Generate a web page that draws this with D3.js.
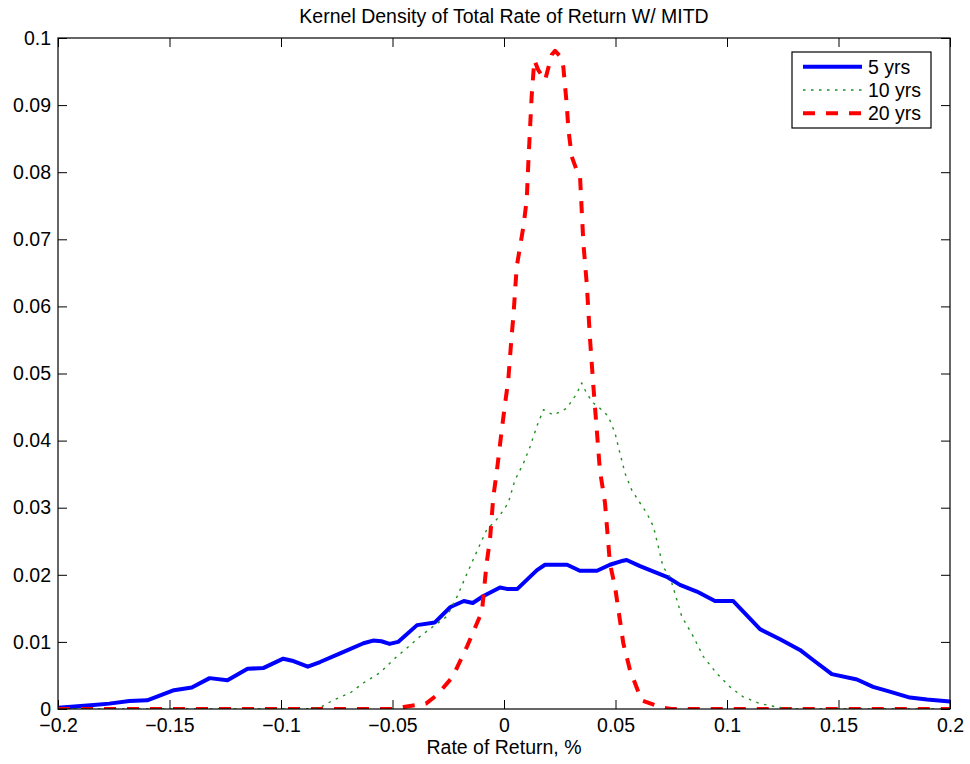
<!DOCTYPE html>
<html>
<head>
<meta charset="utf-8">
<script src="https://cdn.jsdelivr.net/npm/d3@7"></script>
<style>
  html, body { margin: 0; padding: 0; background: #fff; }
  svg { display: block; font-family: "Liberation Sans", Arial, Helvetica, sans-serif; }
</style>
</head>
<body>
<svg id="chart" width="970" height="764"></svg>
<script>
// Kernel density estimates, sampled as (return, density) pairs
const xTicks = [-0.2, -0.15, -0.1, -0.05, 0, 0.05, 0.1, 0.15, 0.2];
const xTickLabels = ["\u22120.2", "\u22120.15", "\u22120.1", "\u22120.05", "0", "0.05", "0.1", "0.15", "0.2"];
const yTicks = [0, 0.01, 0.02, 0.03, 0.04, 0.05, 0.06, 0.07, 0.08, 0.09, 0.1];
const yTickLabels = ["0", "0.01", "0.02", "0.03", "0.04", "0.05", "0.06", "0.07", "0.08", "0.09", "0.1"];

const seriesNames = ["5 yrs", "10 yrs", "20 yrs"];

const x5 = [-0.2, -0.184, -0.177, -0.168, -0.160, -0.148, -0.140, -0.132, -0.124, -0.115, -0.108, -0.099, -0.095, -0.088, -0.0825, -0.0735, -0.063, -0.0587, -0.055, -0.0513, -0.0475, -0.039, -0.031, -0.024, -0.018, -0.014, -0.0094, -0.0018, 0.0013, 0.006, 0.0148, 0.0184, 0.0283, 0.034, 0.0417, 0.0475, 0.0534, 0.055, 0.061, 0.073, 0.0789, 0.0865, 0.0946, 0.1027, 0.1148, 0.1238, 0.1327, 0.1386, 0.147, 0.1583, 0.1655, 0.173, 0.182, 0.1897, 0.2];
const y5 = [0.0002, 0.0006, 0.0008, 0.0012, 0.0013, 0.0028, 0.0032, 0.0046, 0.0043, 0.0060, 0.0061, 0.0075, 0.0072, 0.0063, 0.0070, 0.0083, 0.0098, 0.0102, 0.0101, 0.0097, 0.0100, 0.0125, 0.0129, 0.0152, 0.0161, 0.0158, 0.0168, 0.0181, 0.0179, 0.0179, 0.0207, 0.0215, 0.0215, 0.0206, 0.0206, 0.0215, 0.0221, 0.0222, 0.0213, 0.0197, 0.0185, 0.0175, 0.0161, 0.0161, 0.0119, 0.0104, 0.0088, 0.0073, 0.0052, 0.0044, 0.0033, 0.0026, 0.0017, 0.0014, 0.0011];

const x10 = [-0.2, -0.09, -0.0825, -0.0767, -0.069, -0.063, -0.0556, -0.0498, -0.0435, -0.0377, -0.0318, -0.0256, -0.0211, -0.0184, -0.0139, -0.0078, -0.0026, 0.0019, 0.0049, 0.0087, 0.0117, 0.0147, 0.0177, 0.0222, 0.0281, 0.0326, 0.0348, 0.0371, 0.0401, 0.0438, 0.0468, 0.0498, 0.052, 0.0543, 0.0573, 0.061, 0.064, 0.067, 0.0692, 0.0713, 0.0744, 0.0767, 0.0797, 0.0849, 0.0894, 0.0954, 0.1013, 0.1073, 0.1148, 0.1223, 0.13, 0.2];
const y10 = [0, 0, 0.0002, 0.0013, 0.0024, 0.0039, 0.0054, 0.0073, 0.0091, 0.0108, 0.0123, 0.0138, 0.0167, 0.0188, 0.0222, 0.0267, 0.0285, 0.0307, 0.0341, 0.0366, 0.0391, 0.0421, 0.0446, 0.0438, 0.0448, 0.0470, 0.0486, 0.0470, 0.0456, 0.0446, 0.0436, 0.0411, 0.0381, 0.0351, 0.0326, 0.0307, 0.0292, 0.0272, 0.0242, 0.0212, 0.0197, 0.0172, 0.0138, 0.0108, 0.0078, 0.0053, 0.0033, 0.0018, 0.0008, 0.0003, 0, 0];

const x20 = [-0.2, -0.05, -0.045, -0.035, -0.030, -0.023, -0.0166, -0.0099, -0.0078, -0.0063, -0.0048, -0.0033, -0.001, 0.0004, 0.0019, 0.0034, 0.0042, 0.0057, 0.0072, 0.0087, 0.0102, 0.0109, 0.0124, 0.0136, 0.0154, 0.0184, 0.0214, 0.0229, 0.0259, 0.0266, 0.0281, 0.0289, 0.0304, 0.0326, 0.0341, 0.0356, 0.0371, 0.0386, 0.0401, 0.0416, 0.043, 0.0453, 0.0475, 0.0498, 0.0535, 0.0565, 0.0617, 0.07, 0.075, 0.2];
const y20 = [0, 0, 0.0003, 0.0008, 0.0021, 0.0048, 0.0093, 0.0145, 0.0217, 0.0252, 0.0316, 0.0352, 0.0416, 0.0453, 0.0490, 0.0555, 0.0585, 0.0659, 0.0689, 0.0719, 0.0759, 0.0813, 0.0913, 0.0967, 0.0952, 0.0937, 0.0975, 0.0981, 0.0970, 0.0957, 0.0902, 0.0863, 0.0823, 0.0803, 0.0793, 0.0694, 0.0634, 0.0550, 0.0480, 0.0416, 0.0356, 0.0307, 0.0217, 0.0182, 0.0098, 0.0058, 0.0013, 0.0003, 0, 0];

const margin = { left: 58, right: 20, top: 38, bottom: 55 };
const W = 970, H = 764;
const innerW = W - margin.left - margin.right;
const innerH = H - margin.top - margin.bottom;
const fontSize = 19.5;

const svg = d3.select("#chart");
const xScale = d3.scaleLinear().domain([-0.2, 0.2]).range([margin.left, margin.left + innerW]);
const yScale = d3.scaleLinear().domain([0, 0.1]).range([margin.top + innerH, margin.top]);

svg.append("defs").append("clipPath").attr("id", "plotClip")
  .append("rect")
  .attr("x", margin.left).attr("y", margin.top - 2)
  .attr("width", innerW).attr("height", innerH + 2);

const tickLen = 9;

// Axes with inward ticks on all four sides
const xBottom = d3.axisBottom(xScale).tickValues(xTicks).tickSizeInner(-tickLen).tickSizeOuter(0)
  .tickFormat((d, i) => xTickLabels[i]).tickPadding(9);
const xTop = d3.axisTop(xScale).tickValues(xTicks).tickSizeInner(-tickLen).tickSizeOuter(0).tickFormat("");
const yLeft = d3.axisLeft(yScale).tickValues(yTicks).tickSizeInner(-tickLen).tickSizeOuter(0)
  .tickFormat((d, i) => yTickLabels[i]).tickPadding(7);
const yRight = d3.axisRight(yScale).tickValues(yTicks).tickSizeInner(-tickLen).tickSizeOuter(0).tickFormat("");

function styleAxis(g) {
  g.select(".domain").remove();
  g.selectAll(".tick line").attr("stroke", "#000").attr("stroke-width", 1);
  g.selectAll(".tick text").attr("fill", "#000").attr("font-size", fontSize)
    .attr("font-family", "\"Liberation Sans\", Arial, Helvetica, sans-serif");
}

svg.append("g").attr("transform", `translate(0,${margin.top + innerH})`).call(xBottom).call(styleAxis);
svg.append("g").attr("transform", `translate(0,${margin.top})`).call(xTop).call(styleAxis);
svg.append("g").attr("transform", `translate(${margin.left},0)`).call(yLeft).call(styleAxis);
svg.append("g").attr("transform", `translate(${margin.left + innerW},0)`).call(yRight).call(styleAxis);

// Series lines
const line = d3.line().x(d => xScale(d[0])).y(d => yScale(d[1]));
const series = [
  { name: seriesNames[0], xs: x5, ys: y5, color: "#0000ff", width: 4, dash: null, cap: "round" },
  { name: seriesNames[1], xs: x10, ys: y10, color: "#1f8f1f", width: 1.4, dash: "2.5,5.5", cap: "butt" },
  { name: seriesNames[2], xs: x20, ys: y20, color: "#ff0000", width: 4, dash: "12,11", cap: "butt" }
];

const plot = svg.append("g").attr("clip-path", "url(#plotClip)");
// wide curves first, dotted curve on top so it stays visible
[series[0], series[2], series[1]].forEach(s => {
  const pts = s.xs.map((v, i) => [v, s.ys[i]]);
  plot.append("path")
    .datum(pts)
    .attr("d", line)
    .attr("fill", "none")
    .attr("stroke", s.color)
    .attr("stroke-width", s.width)
    .attr("stroke-linejoin", "round")
    .attr("stroke-linecap", s.cap)
    .attr("stroke-dasharray", s.dash);
});

// Plot box
svg.append("rect")
  .attr("x", margin.left).attr("y", margin.top)
  .attr("width", innerW).attr("height", innerH)
  .attr("fill", "none").attr("stroke", "#000").attr("stroke-width", 1.2);

// Title and axis label
svg.append("text")
  .attr("x", margin.left + innerW / 2).attr("y", 23)
  .attr("text-anchor", "middle").attr("font-size", fontSize).attr("fill", "#000")
  .text("Kernel Density of Total Rate of Return W/ MITD");

svg.append("text")
  .attr("x", margin.left + innerW / 2).attr("y", 754)
  .attr("text-anchor", "middle").attr("font-size", fontSize).attr("fill", "#000")
  .text("Rate of Return, %");

// Legend
const legend = svg.append("g");
legend.append("rect")
  .attr("x", 792).attr("y", 52).attr("width", 139).attr("height", 76)
  .attr("fill", "#fff").attr("stroke", "#000").attr("stroke-width", 1.2);
const rowY = [66.7, 90, 113.3];
series.forEach((s, i) => {
  legend.append("line")
    .attr("x1", 803).attr("x2", 862).attr("y1", rowY[i]).attr("y2", rowY[i])
    .attr("stroke", s.color).attr("stroke-width", s.width)
    .attr("stroke-dasharray", s.dash);
  legend.append("text")
    .attr("x", 868).attr("y", rowY[i]).attr("dy", "0.35em")
    .attr("font-size", fontSize).attr("fill", "#000")
    .text(s.name);
});
</script>
</body>
</html>
